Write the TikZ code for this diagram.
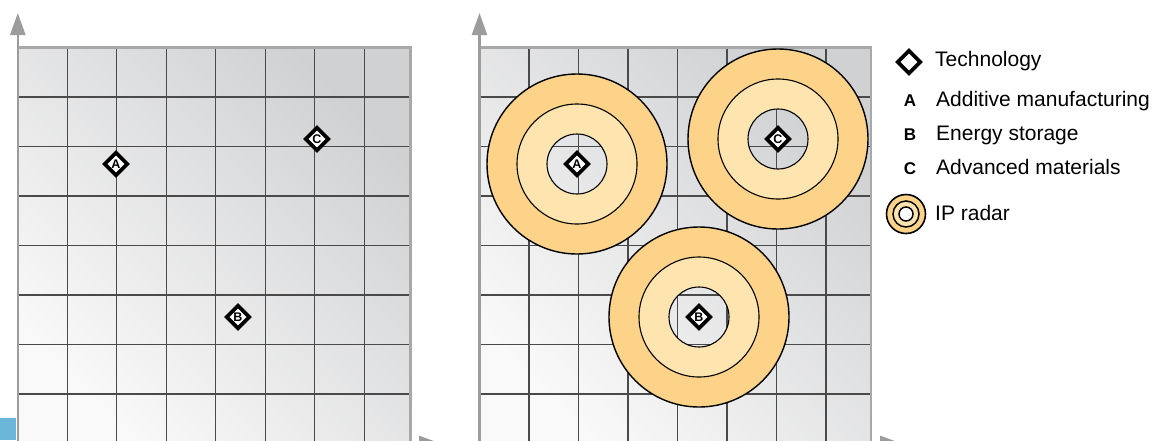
\documentclass[tikz,border=0pt]{standalone}
\usepackage{fontspec}
\setmainfont{Liberation Sans}
\usetikzlibrary{shapes.geometric,arrows.meta}
\definecolor{gridline}{HTML}{4A4A4A}
\definecolor{frame}{HTML}{A8A8A8}
\definecolor{axisgray}{HTML}{9C9C9C}
\definecolor{ringdark}{HTML}{FCD389}
\definecolor{ringlight}{HTML}{FEE5B0}
\definecolor{tabblue}{HTML}{6BB7D9}
\definecolor{panelTR}{HTML}{D0D1D3}
\definecolor{panelBL}{HTML}{F9F9F9}
\begin{document}
\begin{tikzpicture}[x=1pt,y=-1pt,
  gridln/.style={draw=gridline,line width=1.1pt},
  panelframe/.style={draw=frame,line width=2.6pt},
  panelfill/.style={top color=panelTR,bottom color=panelBL,shading angle=-45},
  axisline/.style={draw=axisgray,line width=2.4pt,-{Triangle[length=22pt,width=15pt]}},
  techmark/.style={shape=diamond,draw=black,fill=white,line width=3.8pt,inner sep=0pt,
    minimum width=24pt,minimum height=24pt,font=\bfseries\fontsize{12.5}{12.5}\selectfont},
  legtext/.style={inner sep=0pt,font=\fontsize{21}{21}\selectfont},
  legletter/.style={inner sep=0pt,font=\bfseries\fontsize{17}{17}\selectfont},
  ringout/.style={draw=black,line width=1.4pt},
  ringin/.style={draw=black,line width=1.1pt}
]
\useasboundingbox (0,0) rectangle (1156,440);
\clip (0,0) rectangle (1156,440);

% ---------- left panel ----------
\shade[panelfill] (17.8,47.5) rectangle (410.5,443.5);
\foreach \i in {1,...,7} {
  \draw[gridln] ({17.8+49.5*\i},47.5) -- ({17.8+49.5*\i},443.5);
  \draw[gridln] (17.8,{47.5+49.5*\i}) -- (410.5,{47.5+49.5*\i});
}
\draw[panelframe] (17.8,47.5) -- (410.5,47.5) -- (410.5,443.5);
\coordinate (Lorig) at (17.8,443.5);
\coordinate (Ltop) at (17.8,13);
\coordinate (Lend) at (441,443.5);
\draw[axisline] (Lorig) -- (Ltop);
\draw[axisline] (Lorig) -- (Lend);

\node[techmark] (A1) at (116,164) {A};
\node[techmark] (C1) at (317,139) {C};
\node[techmark] (B1) at (238,317) {B};

% ---------- right panel ----------
\shade[panelfill] (479.5,47.5) rectangle (871,443.5);
\foreach \i in {1,...,7} {
  \draw[gridln] ({479.5+49.5*\i},47.5) -- ({479.5+49.5*\i},443.5);
  \draw[gridln] (479.5,{47.5+49.5*\i}) -- (871,{47.5+49.5*\i});
}
\draw[panelframe] (479.5,47.5) -- (871,47.5) -- (871,443.5);
\coordinate (Rorig) at (479.5,443.5);
\coordinate (Rtop) at (479.5,13);
\coordinate (Rend) at (902,443.5);
\draw[axisline] (Rorig) -- (Rtop);
\draw[axisline] (Rorig) -- (Rend);

\coordinate (pA2) at (577,164);
\coordinate (pC2) at (778,139);
\coordinate (pB2) at (699,317);
\foreach \c in {pA2,pC2,pB2} {
  \fill[ringdark,even odd rule] (\c) circle[radius=90pt] (\c) circle[radius=60pt];
  \fill[ringlight,even odd rule] (\c) circle[radius=60pt] (\c) circle[radius=30pt];
  \draw[ringout] (\c) circle[radius=90pt];
  \draw[ringin] (\c) circle[radius=60pt];
  \draw[ringin] (\c) circle[radius=30pt];
}
\node[techmark] (A2) at (pA2) {A};
\node[techmark] (C2) at (pC2) {C};
\node[techmark] (B2) at (pB2) {B};

% ---------- legend ----------
\node[techmark] (legtech) at (909,62) {};
\node[legtext,anchor=base west] (legtechtxt) at (935,66) {Technology};
\node[legletter,anchor=base] (legA) at (910,106) {A};
\node[legtext,anchor=base west] (legAtxt) at (936,106) {Additive manufacturing};
\node[legletter,anchor=base] (legB) at (910,140) {B};
\node[legtext,anchor=base west] (legBtxt) at (936,140) {Energy storage};
\node[legletter,anchor=base] (legC) at (910,174) {C};
\node[legtext,anchor=base west] (legCtxt) at (936,174) {Advanced materials};

\coordinate (legring) at (906,214);
\fill[ringdark,even odd rule] (legring) circle[radius=19.5pt] (legring) circle[radius=13pt];
\fill[ringlight,even odd rule] (legring) circle[radius=13pt] (legring) circle[radius=7pt];
\fill[white] (legring) circle[radius=7pt];
\draw[ringout,line width=1.6pt] (legring) circle[radius=19.5pt];
\draw[ringin,line width=1.5pt] (legring) circle[radius=13pt];
\draw[ringin,line width=1.5pt] (legring) circle[radius=7pt];
\node[legtext,anchor=base west] (legringtxt) at (935,220) {IP radar};

% ---------- blue tab ----------
\fill[tabblue] (0,418) rectangle (16,440);
\end{tikzpicture}
\end{document}
